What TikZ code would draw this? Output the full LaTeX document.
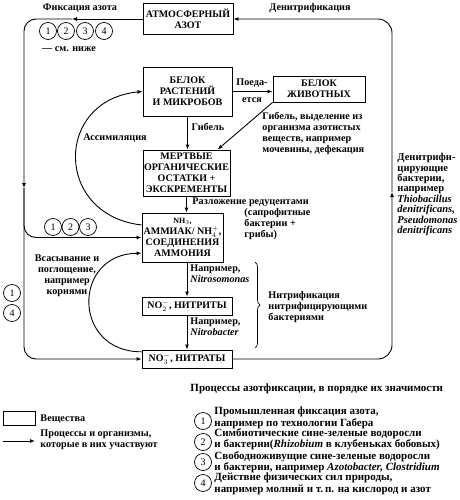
\documentclass[tikz,border=0pt]{standalone}
\usepackage{fontspec}
\setmainfont{Liberation Serif}
\usetikzlibrary{arrows.meta,decorations.pathreplacing}

\begin{document}
\begin{tikzpicture}[x=1pt, y=-1pt, line width=0.9pt, >={Latex[length=5pt, width=4pt]},
        box/.style={draw, align=center, inner sep=1pt, font=\bfseries\fontsize{10}{11}\selectfont},
        lbl/.style={align=left, inner sep=0pt, font=\bfseries\fontsize{10.2}{11}\selectfont},
        key/.style={lbl, anchor=west, font=\bfseries\fontsize{11}{11.5}\selectfont},
        num/.style={draw, circle, inner sep=0pt, minimum size=17pt, line width=0.7pt, font=\fontsize{10}{10}\selectfont}]
        \fill[white] (0, 0) rectangle (459, 500);
        \useasboundingbox (0, 0) rectangle (459, 500);

        % substances
        \node[box, minimum width=90pt, minimum height=31pt] (atm) at (188, 19) {АТМОСФЕРНЫЙ\\АЗОТ};
        \node[box, minimum width=89pt, minimum height=49pt] (plant) at (187.5, 91.5) {БЕЛОК\\РАСТЕНИЙ\\И МИКРОБОВ};
        \node[box, minimum width=92pt, minimum height=26pt] (animal) at (319, 89) {БЕЛОК\\ЖИВОТНЫХ};
        \node[box, minimum width=87pt, minimum height=46pt] (dead) at (186.5, 173) {МЕРТВЫЕ\\ОРГАНИЧЕСКИЕ\\ОСТАТКИ +\\ЭКСКРЕМЕНТЫ};
        \node[box, minimum width=81pt, minimum height=49pt] (amm) at (182.5, 237.5) {{\fontsize{8}{9}\selectfont NH$_3$,}\\АММИАК/ NH$_4^+$,\\СОЕДИНЕНИЯ\\АММОНИЯ};
        \node[box, minimum width=90pt, minimum height=18pt] (nitrite) at (187, 306) {NO$_2^-$, НИТРИТЫ};
        \node[box, minimum width=90pt, minimum height=18pt] (nitrate) at (187, 359) {NO$_3^-$, НИТРАТЫ};

        % fixation loop
        \node[lbl] (fixlbl) at (80, 8) {Фиксация азота};
        \coordinate (fixa) at (72, 19);
        \coordinate (fixb) at (24, 188);
        \draw[->](atm.west)--(fixa);
        \draw[->, rounded corners=12pt](fixa)-|(fixb);
        \draw[->, rounded corners=12pt](fixb)|-(amm.west);
        \draw[->, rounded corners=12pt](fixb)|-(nitrate.west);
        \node[num] (t1) at (48, 31) {1};
        \node[num] (t2) at (66, 31) {2};
        \node[num] (t3) at (85, 31) {3};
        \node[num] (t4) at (104, 31) {4};
        \node[lbl] (below) at (69, 49) {--- см. ниже};
        \node[num] (m1) at (53, 227) {1};
        \node[num] (m2) at (70.5, 227) {2};
        \node[num] (m3) at (88, 227) {3};
        \node[num] (l1) at (12, 293) {1};
        \node[num] (l4) at (12, 313) {4};

        % denitrification loop
        \node[lbl] (denlbl) at (310, 8) {Денитрификация};
        \coordinate (den) at (392, 192);
        \draw[->, rounded corners=14pt](nitrate.east)-|(den);
        \draw[->, rounded corners=14pt](den)|-(atm.east);
        \node[lbl, anchor=north west, font=\bfseries\fontsize{10.5}{10.4}\selectfont] (denbact) at (397, 153)
            {Денитрифи-\\цирующие\\бактерии,\\например\\\textit{Thiobacillus}\\\textit{denitrificans,}\\\textit{Pseudomonas}\\\textit{denitrificans}};

        % plants and animals
        \draw[->](plant.east)--(plant.east -| animal.west);
        \node[lbl] at (252, 83) {Поеда-};
        \node[lbl] at (252, 100) {ется};
        \draw[->](animal.south west)--(dead.37);
        \node[lbl, anchor=north west] (excr) at (262, 112) {Гибель, выделение из\\организма азотистых\\веществ, например\\мочевины, дефекация};
        \draw[->](plant.south)--(plant.south |- dead.north);
        \node[lbl] (death) at (208, 127) {Гибель};
        \draw[->](amm.163) .. controls (54, 215) and (54, 100) .. (plant.west);
        \node[lbl] (assim) at (115, 138) {Ассимиляция};

        % decomposition and nitrification
        \draw[->](dead.south)--(dead.south |- amm.north);
        \node[lbl, anchor=west] (decomp) at (192, 202) {Разложение редуцентами};
        \node[lbl, anchor=north west] (sapro) at (244, 208) {(сапрофитные\\бактерии +\\грибы)};
        \draw[->](nitrite.north |- amm.south)--(nitrite.north);
        \node[lbl, anchor=north west] (nsom) at (190, 264) {Например,\\\textit{Nitrosomonas}};
        \draw[->](nitrite.south)--(nitrate.north);
        \node[lbl, anchor=north west] (nbac) at (190, 317) {Например,\\\textit{Nitrobacter}};
        \draw[decorate, decoration={brace, amplitude=5pt}, line width=0.7pt](255, 262)--(255, 348);
        \node[lbl, anchor=west] (nitrif) at (268, 307) {Нитрификация\\нитрифицирующими\\бактериями};
        \draw[->](nitrate.171) .. controls (72, 352) and (72, 254) .. (amm.201);
        \node[lbl, align=center] (absorb) at (67, 276) {Всасывание и\\поглощение,\\например\\корнями};

        % legend
        \node[draw, minimum width=32pt, minimum height=14pt] (legbox) at (19.5, 418.5) {};
        \node[lbl, anchor=west] (legsub) at (40, 419) {Вещества};
        \coordinate (lega) at (3, 441);
        \coordinate (legb) at (35, 441);
        \draw[->](lega)--(legb);
        \node[lbl, anchor=north west] (legproc) at (40, 429) {Процессы и организмы,\\которые в них участвуют};

        \node[key] (fixtitle) at (190, 389) {Процессы азотфиксации, в порядке их значимости};
        \node[num] (k1) at (203, 421) {1};
        \node[num] (k2) at (203, 442) {2};
        \node[num] (k3) at (203, 462) {3};
        \node[num] (k4) at (203, 483) {4};
        \node[key] (fix1) at (214, 418) {Промышленная фиксация азота,\\например по технологии Габера};
        \node[key] (fix2) at (214, 439) {Симбиотические сине-зеленые водоросли\\и бактерии(\textit{Rhizobium} в клубеньках бобовых)};
        \node[key] (fix3) at (214, 462) {Свободноживущие сине-зеленые водоросли\\и бактерии, например \textit{Azotobacter, Clostridium}};
        \node[key] (fix4) at (214, 484) {Действие физических сил природы,\\например молний и т.\,п. на кислород и азот};
    \end{tikzpicture}
\end{document}
